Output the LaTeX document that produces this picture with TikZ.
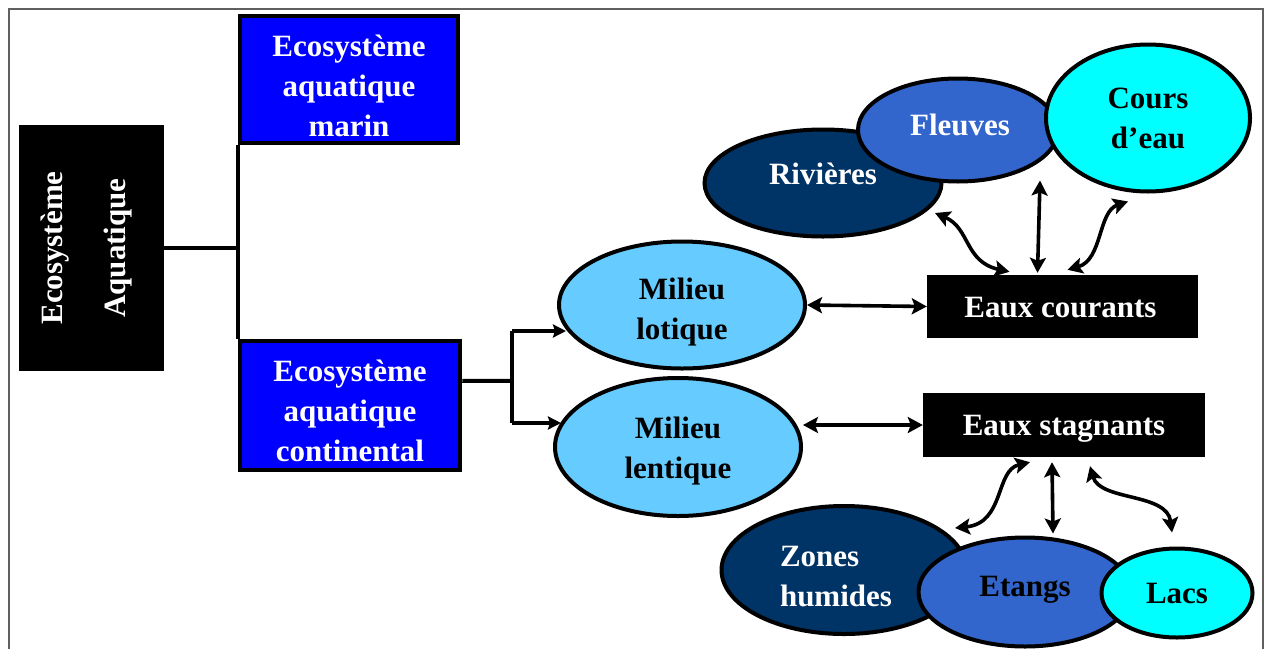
\documentclass[tikz,border=0pt]{standalone}
\usepackage{fontspec}
\setmainfont{Liberation Serif}
\usetikzlibrary{shapes.geometric,arrows.meta,calc}
\definecolor{lightaqua}{HTML}{66CCFF}
\definecolor{navyell}{HTML}{003366}
\definecolor{midblue}{HTML}{3366CC}
\definecolor{cyanell}{HTML}{00FFFF}
\definecolor{framegray}{HTML}{606060}
\begin{document}
\begin{tikzpicture}[x=1pt,y=-1pt,
  every node/.style={font=\fontsize{31}{40}\selectfont\bfseries},
  darkbox/.style={fill=black,text=white,inner sep=0,align=center},
  bluebox/.style={fill=blue,draw=black,line width=4.5pt,inner sep=0},
  ell/.style={ellipse,draw=black,line width=4pt,inner sep=0},
  wtxt/.style={text=white,align=center,inner sep=0},
  btxt/.style={text=black,align=center,inner sep=0},
  conn/.style={line width=4pt},
  tip/.style={-{Stealth[length=13pt,width=13pt,inset=2pt]}},
  arr/.style={line width=3.6pt,{Stealth[length=15pt,width=16pt,inset=3pt]}-{Stealth[length=15pt,width=16pt,inset=3pt]}},
]
\useasboundingbox (0,0) rectangle (1268,648);
\clip (0,0) rectangle (1268,648);
\fill[white] (0,0) rectangle (1268,648);
\draw[framegray,line width=1.8pt] (9,9) rectangle (1263,700);

% left tree
\node[darkbox,minimum width=145pt,minimum height=246pt] (aq) at (91.5,248) {};
\node[rotate=90,wtxt,font=\fontsize{31}{63}\selectfont\bfseries] (aqt) at ($(aq.center)+(-5,0)$) {Ecosystème\\Aquatique};
\node[bluebox,minimum width=218pt,minimum height=127pt] (mar) at (349,79.5) {};
\node[wtxt] (mart) at ($(mar.center)+(0,6)$) {Ecosystème\\aquatique\\marin};
\node[bluebox,minimum width=220pt,minimum height=129pt] (cont) at (350,405.5) {};
\node[wtxt] (contt) at ($(cont.center)+(0,5)$) {Ecosystème\\aquatique\\continental};
\draw[conn] (aq.east) -- (aq.east -| mar.west);
\draw[conn] (mar.south west) -- (cont.north west);

% branch to milieux
\node[ell,fill=lightaqua,minimum width=246pt,minimum height=127pt] (lot) at (682,305) {};
\node[btxt] (lott) at ($(lot.center)+(0,7)$) {Milieu\\lotique};
\node[ell,fill=lightaqua,minimum width=246pt,minimum height=138pt] (len) at (678,447) {};
\node[btxt] (lent) at ($(len.center)+(0,4)$) {Milieu\\lentique};
\coordinate (br) at (512,381);
\coordinate (bt) at (512,331);
\coordinate (bb) at (512,423);
\coordinate (lotin) at (566,331);
\coordinate (lenin) at (561,423);
\draw[conn] ($(cont.north east)+(0,42)$) -- (br);
\draw[conn] (bt) -- (bb);
\draw[conn,tip] (bt) -- (lotin);
\draw[conn,tip] (bb) -- (lenin);

% boxes
\node[darkbox,minimum width=271pt,minimum height=63pt] (ec) at (1062.5,306.5) {};
\node[wtxt] (ect) at ($(ec.center)+(-2,1)$) {Eaux courants};
\node[darkbox,minimum width=282pt,minimum height=64pt] (es) at (1064,425) {};
\node[wtxt] (est) at ($(es.center)+(0,4)$) {Eaux stagnants};
\draw[arr] (lot.east) -- (ec.west);
\draw[arr] (len.east |- es.west) -- (es.west);

% top ellipses
\node[ell,fill=navyell,minimum width=237pt,minimum height=107pt] (riv) at (823,183) {};
\node[wtxt] (rivt) at ($(riv.center)+(0,-9)$) {Rivières};
\node[ell,fill=midblue,minimum width=200pt,minimum height=103pt] (flv) at (958,130) {};
\node[wtxt] (flvt) at ($(flv.center)+(2,-5)$) {Fleuves};
\node[ell,fill=cyanell,minimum width=204pt,minimum height=147pt] (crs) at (1148,118) {};
\node[btxt] (crst) at (crs.center) {Cours\\d’eau};

\draw[arr] ($(riv.center)+(112,30)$) .. controls +(35,15) and +(-45,-10) .. ($(ec.north)+(-53,-3)$);
\draw[arr] ($(flv.south)+(82,-3)$) -- ($(ec.north)+(-25,-2)$);
\draw[arr] ($(crs.south)+(-20,8)$) .. controls +(-30,10) and +(35,-10) .. ($(ec.north)+(5,-5)$);

% bottom ellipses
\node[ell,fill=navyell,minimum width=245pt,minimum height=128pt] (zh) at (844,570) {};
\node[wtxt,align=left] (zht) at ($(zh.center)+(-8,7)$) {Zones\\humides};
\node[ell,fill=midblue,minimum width=213pt,minimum height=109pt] (etg) at (1025,592) {};
\node[btxt] (etgt) at ($(etg.center)+(0,-2)$) {Etangs};
\node[ell,fill=cyanell,minimum width=151pt,minimum height=89pt] (lac) at (1177,593) {};
\node[btxt] (lact) at (lac.center) {Lacs};

\draw[arr] ($(es.south)+(-34,5)$) .. controls +(-35,8) and +(50,-5) .. ($(zh.center)+(111,-42)$);
\draw[arr] ($(es.south)+(-12,5)$) -- ($(etg.north)+(28,-2)$);
\draw[arr] ($(es.south)+(26,9)$) .. controls +(10,35) and +(-5,-40) .. ($(lac.north)+(-5,-14)$);
\end{tikzpicture}
\end{document}
